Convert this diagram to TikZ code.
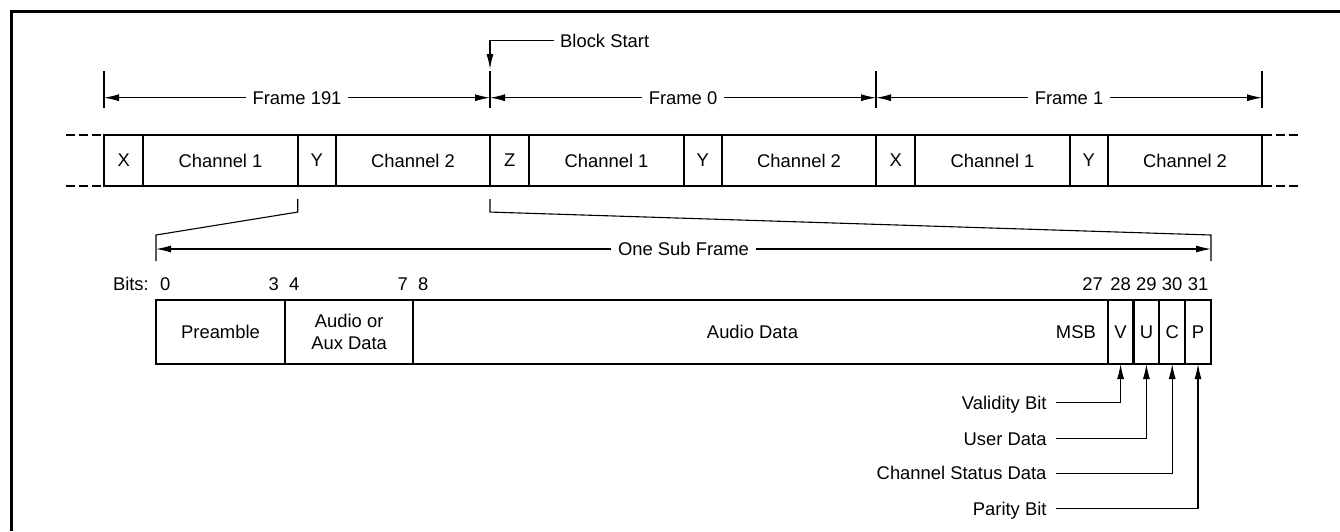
\documentclass[tikz,border=0pt]{standalone}
\usepackage{fontspec}
\setmainfont{Liberation Sans}
\usetikzlibrary{arrows.meta}
\begin{document}
\begin{tikzpicture}[x=1pt,y=-1pt,
  every node/.style={font=\fontsize{18.4pt}{22.3pt}\selectfont, text depth=0pt},
  cell/.style={draw, line width=2.3pt, inner sep=0pt, outer sep=0pt, anchor=west, align=center},
  framecell/.style={cell, minimum height=50.7pt},
  subcell/.style={cell, minimum height=64pt},
  thinline/.style={line width=1.1pt},
  dim/.style={thinline, -{Latex[length=15pt,width=7pt]}},
  lab/.style={inner xsep=6.5pt, inner ysep=0pt},
  num/.style={inner sep=0pt},
  dashend/.style={line width=2.3pt, dash pattern=on 9pt off 4pt}
]
\useasboundingbox (0,0) rectangle (1340,531);
\fill[white] (0,0) rectangle (1340,531);
% outer (cropped) border
\draw[line width=3pt] (11.5,531) -- (11.5,11.5) -- (1340,11.5);

% ---- frame row ----
\node[framecell, minimum width=39.3pt] (aP) at (104,160.4) {X};
\node[framecell, minimum width=154.4pt] (aC1) at (aP.east) {Channel 1};
\node[framecell, minimum width=38.3pt] (aY) at (aC1.east) {Y};
\node[framecell, minimum width=154pt] (aC2) at (aY.east) {Channel 2};
\node[framecell, minimum width=39.3pt] (bP) at (490,160.4) {Z};
\node[framecell, minimum width=154.4pt] (bC1) at (bP.east) {Channel 1};
\node[framecell, minimum width=38.3pt] (bY) at (bC1.east) {Y};
\node[framecell, minimum width=154pt] (bC2) at (bY.east) {Channel 2};
\node[framecell, minimum width=39.3pt] (cP) at (876,160.4) {X};
\node[framecell, minimum width=154.4pt] (cC1) at (cP.east) {Channel 1};
\node[framecell, minimum width=38.3pt] (cY) at (cC1.east) {Y};
\node[framecell, minimum width=154pt] (cC2) at (cY.east) {Channel 2};

\draw[dashend] ([xshift=-38pt]aP.north west) -- ([xshift=-3pt]aP.north west);
\draw[dashend] ([xshift=-38pt]aP.south west) -- ([xshift=-3pt]aP.south west);
\draw[dashend] ([xshift=1pt]cC2.north east) -- ([xshift=38pt]cC2.north east);
\draw[dashend] ([xshift=1pt]cC2.south east) -- ([xshift=38pt]cC2.south east);

% ---- frame dimension lines ----
\coordinate (t0) at (104,97.7);
\coordinate (t1) at (490,97.7);
\coordinate (t2) at (876,97.7);
\coordinate (t3) at (1262,97.7);
\foreach \t in {t0,t1,t2,t3}
  \draw[thinline] ([yshift=26.7pt]\t) -- ([yshift=-10.3pt]\t);
\node[lab] (f191) at (297,97.7) {Frame 191};
\node[lab] (f0) at (683,97.7) {Frame 0};
\node[lab] (f1) at (1069,97.7) {Frame 1};
\draw[dim] (f191.west) -- (t0);
\draw[dim] (f191.east) -- (t1);
\draw[dim] (f0.west) -- (t1);
\draw[dim] (f0.east) -- (t2);
\draw[dim] (f1.west) -- (t2);
\draw[dim] (f1.east) -- (t3);

% block start
\node[lab, anchor=west] (bs) at (553.5,40.7) {Block Start};
\coordinate (bsTip) at (490,69);
\draw[dim] (bs.west) -| (bsTip);

% ---- zoom lines ----
\coordinate (sfL) at (156,235);
\coordinate (sfR) at (1211,235);
\draw[thinline] ([yshift=-13.3pt]aY.south west) -- ([yshift=-26.3pt]aY.south west) -- (sfL) -- ++(0,26);
\draw[thinline] ([yshift=-13.3pt]bP.south west) -- ([yshift=-26.3pt]bP.south west) -- (sfR) -- ++(0,26);
\node[lab] (osf) at (683.5,249) {One Sub Frame};
\draw[dim] (osf.west) -- (osf.west -| sfL);
\draw[dim] (osf.east) -- (osf.east -| sfR);

% ---- sub frame ----
\node[subcell, minimum width=129pt] (pre) at (156,332) {Preamble};
\node[subcell, minimum width=128.3pt] (aux) at (pre.east) {Audio or\\Aux Data};
\node[subcell, minimum width=694.4pt] (data) at (aux.east) {};
\node[subcell, minimum width=25.8pt] (sV) at (data.east) {V};
\node[subcell, minimum width=25.8pt] (sU) at (sV.east) {U};
\node[subcell, minimum width=25.8pt] (sC) at (sU.east) {C};
\node[subcell, minimum width=25.8pt] (sPb) at (sC.east) {P};
\node[num] (adata) at (752.5,332) {Audio Data};
\node[num, anchor=east] (msb) at (1096,332) {MSB};

% bit numbers
\node[num, anchor=east] (bits) at (149,284.3) {Bits:};
\node[num, anchor=west] (n0) at (160,284.3) {0};
\node[num, anchor=east] (n3) at (279,284.3) {3};
\node[num, anchor=west] (n4) at (289,284.3) {4};
\node[num, anchor=east] (n7) at (408,284.3) {7};
\node[num, anchor=west] (n8) at (418,284.3) {8};
\node[num, anchor=east] (n27) at (1103,284.3) {27};
\node[num] (n28) at (sV.center |- n27) {28};
\node[num] (n29) at (sU.center |- n27) {29};
\node[num] (n30) at (sC.center |- n27) {30};
\node[num] (n31) at (sPb.center |- n27) {31};

% ---- bottom labels ----
\node[lab, inner xsep=9pt, anchor=east] (lv) at (1055.7,402.7) {Validity Bit};
\node[lab, inner xsep=9pt, anchor=east] (lu) at (1055.7,438.7) {User Data};
\node[lab, inner xsep=9pt, anchor=east] (lc) at (1055.7,473.3) {Channel Status Data};
\node[lab, inner xsep=9pt, anchor=east] (lp) at (1055.7,508.7) {Parity Bit};
\draw[dim] (lv.east) -| (sV.south);
\draw[dim] (lu.east) -| (sU.south);
\draw[dim] (lc.east) -| (sC.south);
\draw[dim] (lp.east) -| (sPb.south);
\end{tikzpicture}
\end{document}
